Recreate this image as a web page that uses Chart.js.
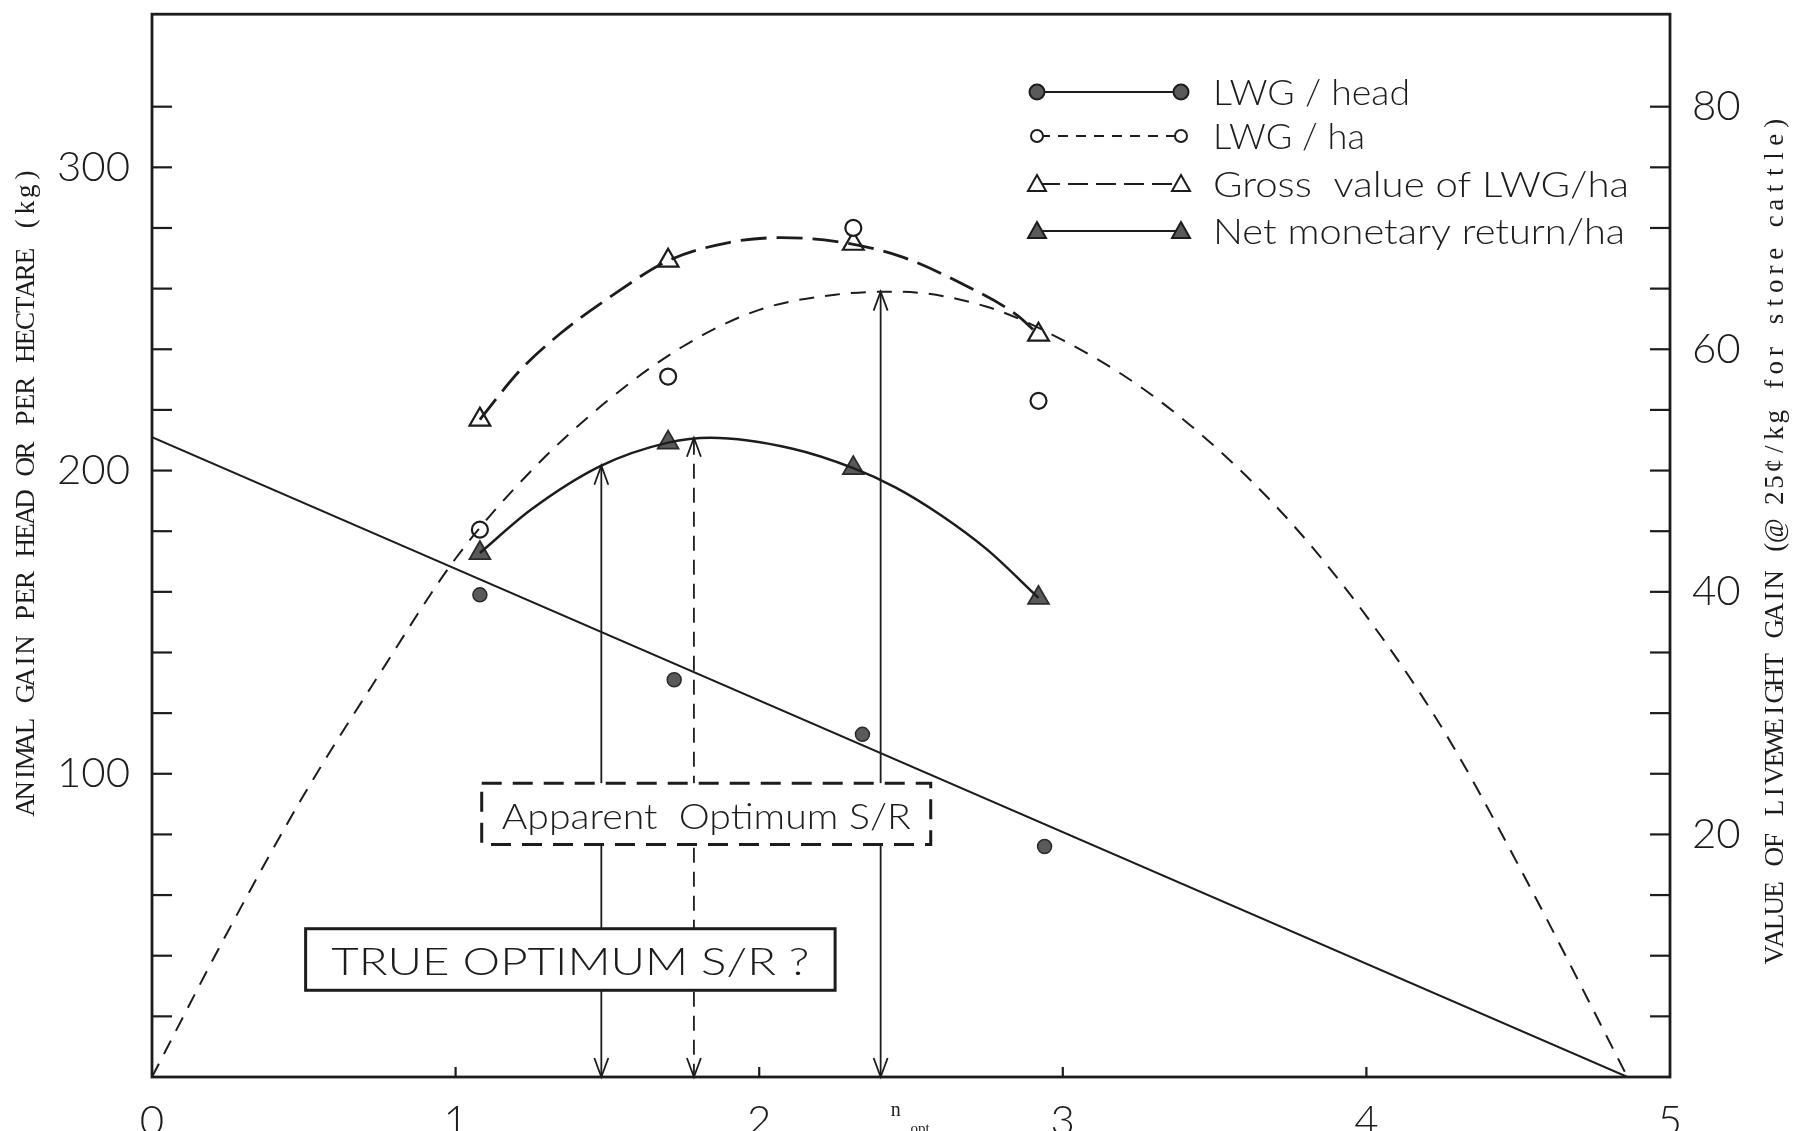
<!DOCTYPE html>
<html><head><meta charset="utf-8">
<script src="https://cdn.jsdelivr.net/npm/chart.js@4.4.1/dist/chart.umd.min.js"></script>
<style>html,body{margin:0;padding:0;background:#fff}canvas{display:block}</style>
</head><body>
<canvas id="c" width="1797" height="1131"></canvas>
<script>
// Stocking-rate trial: liveweight gain (LWG) per head and per hectare,
// with its gross value and the net monetary return per hectare.

// Observed treatment means (stocking rate on x)
const stockingRate = [1.08, 1.70, 2.31, 2.92];
const headRate     = [1.08, 1.72, 2.34, 2.94];
const gainPerHead  = [159, 131, 113, 76];      // kg / head (left axis)
const gainPerHa    = [180.5, 231, 280, 223];   // kg / ha  (left axis)
const grossValue   = [54.2, 67.3, 68.7, 61.2]; // $ / ha   (right axis)
const netReturn    = [43.2, 52.3, 50.2, 39.5]; // $ / ha   (right axis)

// Fitted line for gain per head
const headFitX = [0, 4.86];
const headFitY = [211, 0];

// Gain per hectare implied by the fitted line
const haCurveX = [0, 0.25, 0.5, 0.75, 1.0, 1.25, 1.5, 1.75, 2.0, 2.25, 2.45, 2.75, 3.0, 3.25, 3.5, 3.75, 4.0, 4.25, 4.5, 4.86];
const haCurveY = [0, 48, 93, 133, 171, 200, 223, 241, 253, 258, 259, 254, 243, 228, 208, 183, 152, 115, 70, 0];

// Smoothed gross value and net return curves
const grossCurveX = [1.08, 1.21, 1.35, 1.52, 1.70, 1.90, 2.07, 2.25, 2.46, 2.66, 2.85, 2.92];
const grossCurveY = [54.2, 58.2, 61.4, 64.5, 67.3, 68.8, 69.2, 68.9, 67.7, 65.5, 62.8, 61.2];
const netCurveX = [1.08, 1.25, 1.48, 1.70, 1.84, 2.11, 2.31, 2.45, 2.60, 2.75, 2.92];
const netCurveY = [43.2, 46.8, 50.4, 52.3, 52.7, 51.8, 50.2, 48.6, 46.3, 43.5, 39.5];

// Optimum stocking rates marked with arrows (level in kg on the left axis)
const optimumRate  = [1.48, 1.785, 2.40];
const optimumLevel = [201.6, 210.8, 259];
const optimumDashed = [false, true, false];

// Axis labels
const xTickLabels = ['0', '1', '2', '3', '4', '5'];
const leftTickLabels = [100, 200, 300];
const rightTickLabels = [20, 40, 60, 80];
const seriesNames = ['LWG / head', 'LWG / ha', 'Gross  value of LWG/ha', 'Net monetary return/ha'];
const leftTitle = 'ANIMAL GAIN PER HEAD OR PER HECTARE (kg)';
const rightTitle = 'VALUE OF LIVEWEIGHT GAIN (@ 25\u00A2/kg for store cattle)';
const apparentLabel = 'Apparent  Optimum S/R';
const trueLabel = 'TRUE OPTIMUM S/R ?';

const INK = '#1c1c1c';
const FILL = '#5a5a5a';
const LETTER = 'Lato';
const TYPE = '"Liberation Serif", serif';

const pts = (xs, ys) => xs.map((x, i) => ({x, y: ys[i]}));

// stencil-style lettering: light face stretched to a given width
function letter(ctx, text, x, y, size, width, align) {
  ctx.save();
  ctx.font = '300 ' + size + 'px ' + LETTER;
  ctx.textBaseline = 'alphabetic';
  ctx.textAlign = 'left';
  const w = ctx.measureText(text).width;
  const k = width / w;
  const x0 = align === 'center' ? x - width / 2 : x;
  ctx.translate(x0, y + size * 0.36);
  ctx.scale(k, 1);
  ctx.fillText(text, 0, 0);
  ctx.restore();
}

// typewriter-style vertical title, fixed pitch, reading bottom to top
function typed(ctx, text, cx, cy, pitch) {
  ctx.save();
  ctx.translate(cx, cy);
  ctx.rotate(-Math.PI / 2);
  ctx.font = '27px ' + TYPE;
  ctx.textAlign = 'center';
  ctx.textBaseline = 'middle';
  const start = -pitch * (text.length - 1) / 2;
  for (let i = 0; i < text.length; i++) ctx.fillText(text[i], start + i * pitch, 0);
  ctx.restore();
}

function drawHead(ctx, x, y, dir) {
  ctx.beginPath();
  ctx.moveTo(x - 7, y - dir * 19);
  ctx.lineTo(x, y);
  ctx.lineTo(x + 7, y - dir * 19);
  ctx.stroke();
}

function drawMarker(ctx, kind, x, y) {
  ctx.save();
  ctx.setLineDash([]);
  ctx.lineWidth = 2;
  ctx.strokeStyle = INK;
  if (kind === 'dot') {
    ctx.fillStyle = FILL;
    ctx.beginPath(); ctx.arc(x, y, 7.5, 0, Math.PI * 2); ctx.fill(); ctx.stroke();
  } else if (kind === 'ring') {
    ctx.fillStyle = '#fff';
    ctx.beginPath(); ctx.arc(x, y, 6, 0, Math.PI * 2); ctx.fill(); ctx.stroke();
  } else {
    ctx.fillStyle = kind === 'tri' ? FILL : '#fff';
    ctx.beginPath();
    ctx.moveTo(x, y - 9); ctx.lineTo(x + 9, y + 7); ctx.lineTo(x - 9, y + 7); ctx.closePath();
    ctx.fill(); ctx.stroke();
  }
  ctx.restore();
}

const inkPlugin = {
  id: 'ink',
  afterDatasetsDraw(chart) {
    const {ctx, scales: {x, y}} = chart;
    const base = y.getPixelForValue(0);
    ctx.save();
    ctx.strokeStyle = INK;
    ctx.lineWidth = 1.8;
    optimumRate.forEach((r, i) => {
      const px = x.getPixelForValue(r);
      const top = y.getPixelForValue(optimumLevel[i]);
      ctx.setLineDash(optimumDashed[i] ? [15, 9] : []);
      ctx.beginPath(); ctx.moveTo(px, top + 2); ctx.lineTo(px, base - 2); ctx.stroke();
      ctx.setLineDash([]);
      drawHead(ctx, px, top, -1);
      drawHead(ctx, px, base, 1);
    });
    // label boxes (white fill hides the arrows behind them)
    const box = (x0, x1, y0, y1, dashed, text, size, width) => {
      const L = x.getPixelForValue(x0), R = x.getPixelForValue(x1);
      const T = y.getPixelForValue(y0), B = y.getPixelForValue(y1);
      ctx.fillStyle = '#fff';
      ctx.fillRect(L, T, R - L, B - T);
      ctx.lineWidth = 3;
      ctx.setLineDash(dashed ? [20, 11] : []);
      ctx.strokeRect(L, T, R - L, B - T);
      ctx.setLineDash([]);
      ctx.fillStyle = INK;
      letter(ctx, text, (L + R) / 2, (T + B) / 2 + 2, size, width, 'center');
    };
    box(1.086, 2.565, 96.9, 76.7, true, apparentLabel, 36, 409);
    box(0.506, 2.25, 48.9, 28.6, false, trueLabel, 38, 478);
    ctx.restore();
  },
  afterDraw(chart) {
    const {ctx, chartArea: a, scales: {x, y, y2}} = chart;
    ctx.save();
    ctx.strokeStyle = INK;
    ctx.lineWidth = 2.8;
    ctx.setLineDash([]);
    ctx.strokeRect(a.left, a.top, a.right - a.left, a.bottom - a.top);
    // inward tick marks
    ctx.lineWidth = 2.2;
    y.ticks.forEach(t => {
      if (t.value <= 0 || t.value > 330) return;
      const py = y.getPixelForValue(t.value);
      ctx.beginPath(); ctx.moveTo(a.left, py); ctx.lineTo(a.left + 20, py); ctx.stroke();
    });
    y2.ticks.forEach(t => {
      if (t.value <= 0 || t.value > 82) return;
      const py = y2.getPixelForValue(t.value);
      ctx.beginPath(); ctx.moveTo(a.right, py); ctx.lineTo(a.right - 20, py); ctx.stroke();
    });
    x.ticks.forEach(t => {
      if (t.value <= 0 || t.value >= 5) return;
      const px = x.getPixelForValue(t.value);
      ctx.beginPath(); ctx.moveTo(px, a.bottom); ctx.lineTo(px, a.bottom - 10); ctx.stroke();
    });

    // legend
    const kinds = [['dot', []], ['ring', [10, 8]], ['tri-open', [20, 8]], ['tri', []]];
    const rows = [92, 136, 184, 231];
    const widths = [197, 152, 416, 412];
    kinds.forEach(([k, dash], i) => {
      const ly = rows[i];
      ctx.strokeStyle = INK;
      ctx.lineWidth = 2;
      ctx.setLineDash(dash);
      ctx.beginPath(); ctx.moveTo(1040, ly); ctx.lineTo(1178, ly); ctx.stroke();
      drawMarker(ctx, k, 1037, ly);
      drawMarker(ctx, k, 1181, ly);
      ctx.fillStyle = INK;
      letter(ctx, seriesNames[i], 1213, ly, 35, widths[i], 'left');
    });

    // axis titles
    ctx.fillStyle = INK;
    typed(ctx, leftTitle, 27, 491, 16.2);
    typed(ctx, rightTitle, 1776, 539, 16.3);

    // stocking-rate symbol under the axis
    ctx.textAlign = 'center';
    ctx.textBaseline = 'middle';
    ctx.font = '20px ' + TYPE;
    ctx.fillText('n', x.getPixelForValue(2.45), 1111);
    ctx.font = '15px ' + TYPE;
    ctx.fillText('opt', x.getPixelForValue(2.53), 1129);
    ctx.restore();
  }
};

const tickFont = {family: LETTER, weight: '300', size: 42};
const noPad = s => { s.paddingTop = 0; s.paddingBottom = 0; s.paddingLeft = 0; s.paddingRight = 0; };

new Chart(document.getElementById('c'), {
  type: 'scatter',
  data: {
    datasets: [
      {label: 'fit head', data: pts(headFitX, headFitY), showLine: true, borderColor: INK, borderWidth: 2, pointRadius: 0, yAxisID: 'y'},
      {label: 'curve ha', data: pts(haCurveX, haCurveY), showLine: true, borderColor: INK, borderWidth: 2, borderDash: [15, 11], cubicInterpolationMode: 'monotone', pointRadius: 0, yAxisID: 'y'},
      {label: 'curve gross', data: pts(grossCurveX, grossCurveY), showLine: true, borderColor: INK, borderWidth: 2.8, borderDash: [26, 10], cubicInterpolationMode: 'monotone', pointRadius: 0, yAxisID: 'y2'},
      {label: 'curve net', data: pts(netCurveX, netCurveY), showLine: true, borderColor: INK, borderWidth: 2.5, cubicInterpolationMode: 'monotone', pointRadius: 0, yAxisID: 'y2'},
      {label: seriesNames[0], data: pts(headRate, gainPerHead), pointStyle: 'circle', pointRadius: 7, pointBackgroundColor: FILL, pointBorderColor: '#2a2a2a', pointBorderWidth: 1.5, yAxisID: 'y'},
      {label: seriesNames[1], data: pts(stockingRate, gainPerHa), pointStyle: 'circle', pointRadius: 8, pointBackgroundColor: '#fff', pointBorderColor: INK, pointBorderWidth: 2.2, yAxisID: 'y'},
      {label: seriesNames[2], data: pts(stockingRate, grossValue), pointStyle: 'triangle', pointRadius: 12, pointBackgroundColor: '#fff', pointBorderColor: INK, pointBorderWidth: 2.2, yAxisID: 'y2'},
      {label: seriesNames[3], data: pts(stockingRate, netReturn), pointStyle: 'triangle', pointRadius: 12, pointBackgroundColor: FILL, pointBorderColor: '#2a2a2a', pointBorderWidth: 1.8, yAxisID: 'y2'}
    ]
  },
  options: {
    responsive: false,
    devicePixelRatio: 1,
    animation: false,
    layout: {padding: {top: 9, left: 0, right: 0, bottom: 0}},
    plugins: {legend: {display: false}, tooltip: {enabled: false}},
    scales: {
      x: {
        type: 'linear', min: 0, max: 5, position: 'bottom',
        grid: {display: false}, border: {display: false},
        ticks: {stepSize: 1, autoSkip: false, maxRotation: 0, padding: 11, color: INK, font: tickFont,
                callback: v => xTickLabels[v] ?? ''},
        afterFit: s => { s.height = 54; noPad(s); }
      },
      y: {
        type: 'linear', min: 0, max: 350.5, position: 'left',
        grid: {display: false}, border: {display: false},
        ticks: {stepSize: 20, autoSkip: false, padding: 14, color: INK, font: tickFont,
                callback: v => leftTickLabels.includes(v) ? String(v) : ''},
        afterFit: s => { s.width = 152; noPad(s); }
      },
      y2: {
        type: 'linear', min: 0, max: 87.625, position: 'right',
        grid: {display: false}, border: {display: false},
        ticks: {stepSize: 5, autoSkip: false, padding: 14, color: INK, font: tickFont,
                callback: v => rightTickLabels.includes(v) ? String(v) : ''},
        afterFit: s => { s.width = 127; noPad(s); }
      }
    }
  },
  plugins: [inkPlugin]
});
</script>
</body></html>
